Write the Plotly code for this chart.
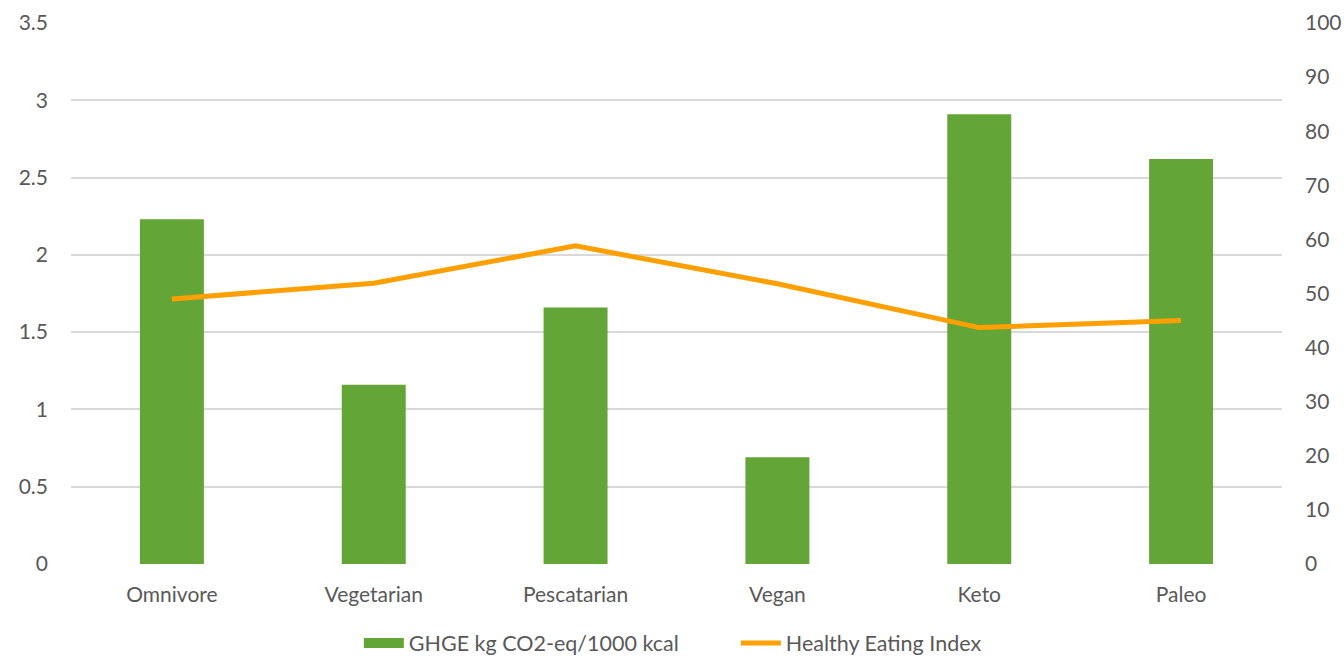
import plotly.graph_objects as go

diets = ["Omnivore", "Vegetarian", "Pescatarian", "Vegan", "Keto", "Paleo"]
ghge = [2.23, 1.16, 1.66, 0.69, 2.91, 2.62]
hei = [49.0, 51.9, 58.8, 51.8, 43.7, 45.0]

TEXT = "#595959"
GREEN = "#63A537"
ORANGE = "#FF9F00"
FONT = "Lato, Open Sans, sans-serif"
W, H = 1344, 658
TOP, BOTTOM = 23, 94

fig = go.Figure()
fig.add_trace(go.Bar(
    x=diets, y=ghge, name="GHGE kg CO2-eq/1000 kcal",
    marker=dict(color=GREEN, line=dict(width=0)),
    yaxis="y", showlegend=False, legendgroup="ghge",
))
# wide rectangular legend key for the bars
fig.add_trace(go.Scatter(
    x=[None], y=[None], name="GHGE kg CO2-eq/1000 kcal",
    mode="lines", line=dict(color=GREEN, width=14),
    legendgroup="ghge", hoverinfo="skip",
))
fig.add_trace(go.Scatter(
    x=diets, y=hei, name="Healthy Eating Index",
    mode="lines", line=dict(color=ORANGE, width=5),
    yaxis="y2",
))

fig.update_layout(
    width=W, height=H,
    margin=dict(l=71, r=62, t=0, b=0, autoexpand=False),
    paper_bgcolor="white", plot_bgcolor="white",
    font=dict(family=FONT, size=21, color=TEXT),
    bargap=0.683,
    showlegend=True,
    legend=dict(orientation="h", x=0.549, xanchor="center",
                y=(H - 643) / H, yanchor="middle",
                font=dict(size=21.5, color=TEXT), itemwidth=40,
                entrywidth=322, traceorder="normal", tracegroupgap=0),
    xaxis=dict(showgrid=False, zeroline=False, showline=False, ticks="",
               automargin=False,
               ticklabelstandoff=16, tickfont=dict(size=21, color=TEXT)),
    yaxis=dict(range=[0, 3.5], dtick=0.5, showgrid=True, gridcolor="#D9D9D9",
               gridwidth=1.5, zeroline=False, showline=False, ticks="",
               automargin=False, domain=[BOTTOM / H, 1 - TOP / H],
               ticklabelstandoff=22, tickfont=dict(size=21, color=TEXT)),
    yaxis2=dict(range=[0, 100], dtick=10, overlaying="y", side="right",
                showgrid=False, zeroline=False, showline=False, ticks="",
                automargin=False,
                ticklabelstandoff=22, tickfont=dict(size=21, color=TEXT)),
)

fig.write_html("out.html")
